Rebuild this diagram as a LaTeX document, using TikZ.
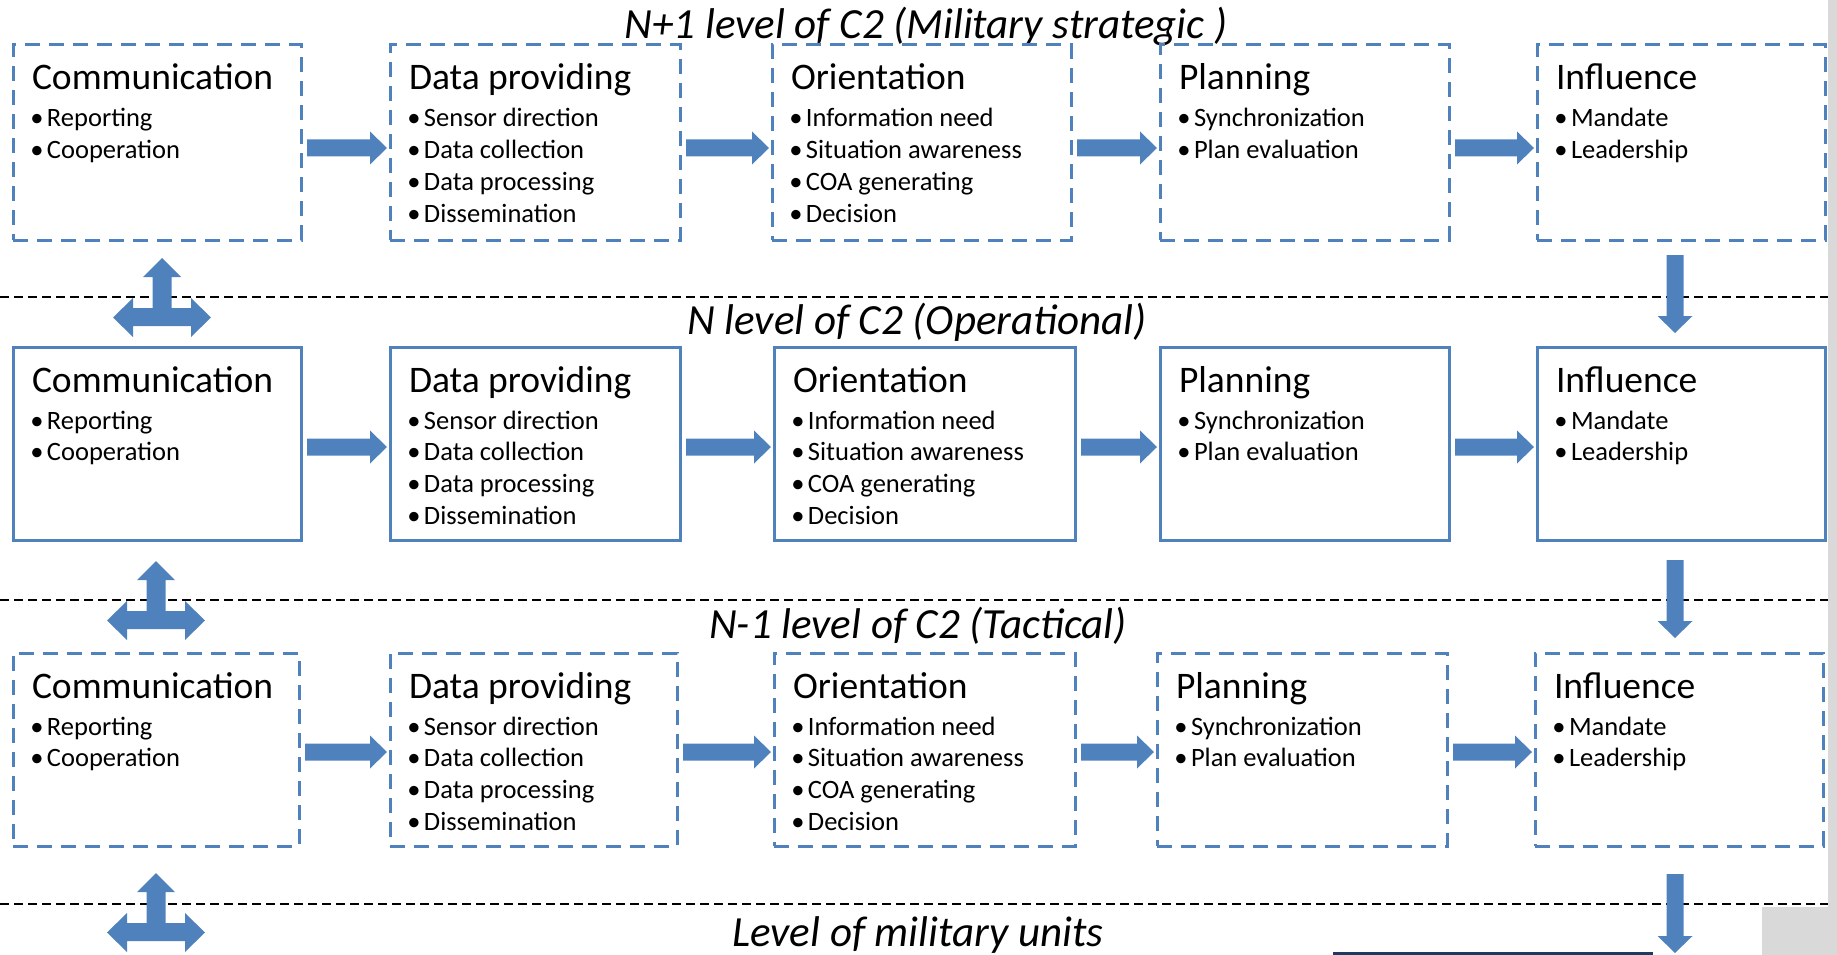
\documentclass[tikz,border=0pt]{standalone}
\usepackage{fontspec}
\setmainfont{Carlito}
\usetikzlibrary{calc}

\definecolor{boxblue}{HTML}{4F81BD}
\definecolor{pagegray}{HTML}{D9D9D9}
\definecolor{barnavy}{HTML}{1F3A60}

\newcommand{\ttlfont}{\fontsize{37.5}{40}\selectfont}
\newcommand{\itmfont}{\fontsize{26.5}{30}\selectfont}
\newcommand{\lvlfont}{\fontsize{43}{46}\selectfont\itshape}

% Box body: width, height, heading, comma separated bullet items
\newcommand{\boxcontent}[4]{%
  \parbox[t][#2][t]{#1}{\offinterlineskip
    \hbox to\hsize{\hspace*{19pt}\rule{0pt}{45pt}\smash{\ttlfont #3}\hfil}%
    \vskip5.3pt
    \foreach \entry in {#4}{%
      \hbox to\hsize{\hspace*{24pt}\rule{0pt}{31.7pt}\makebox[0pt]{\smash{\itmfont\textbullet}}\hspace*{10pt}\smash{\itmfont\entry}\hfil}}%
  }}

\tikzset{
  box/.style={draw=boxblue, line width=3pt, inner sep=0pt, outer sep=0pt, anchor=north west},
  dbox/.style={box, dash pattern=on 15pt off 9pt},
  sepline/.style={draw=black, line width=2pt, dash pattern=on 8.5pt off 5.5pt},
  lvl/.style={anchor=base, inner sep=0pt, font=\lvlfont},
  harrow/.style={to path={
    ($(\tikztostart)+(0,-8.5)$) -- ($(\tikztotarget)+(-17,-8.5)$) --
    ($(\tikztotarget)+(-17,-16.5)$) -- (\tikztotarget) --
    ($(\tikztotarget)+(-17,16.5)$) -- ($(\tikztotarget)+(-17,8.5)$) --
    ($(\tikztostart)+(0,8.5)$) -- cycle}},
  varrow/.style={to path={
    ($(\tikztostart)+(-8.5,0)$) -- ($(\tikztotarget)+(-8.5,-17)$) --
    ($(\tikztotarget)+(-17.5,-17)$) -- (\tikztotarget) --
    ($(\tikztotarget)+(17.5,-17)$) -- ($(\tikztotarget)+(8.5,-17)$) --
    ($(\tikztostart)+(8.5,0)$) -- cycle}},
  commarrow/.pic={
    \fill[boxblue] (0,0) -- (19,19) -- (9.5,19) -- (9.5,50) -- (29,50) -- (29,40)
      -- (49,59.5) -- (29,79) -- (29,68) -- (-29,68) -- (-29,79) -- (-49,59.5)
      -- (-29,40) -- (-29,50) -- (-9.5,50) -- (-9.5,19) -- (-19,19) -- cycle;}
}

\begin{document}
\begin{tikzpicture}[x=1pt,y=-1pt]
\useasboundingbox (0,0) rectangle (1837,955);

% page edge
\fill[pagegray] (1828,0) rectangle (1837,955);
\fill[pagegray] (1762,907) rectangle (1837,955);
\fill[barnavy] (1333,952) rectangle (1653,955);

% level separators
\draw[sepline] (0,297) -- (1828,297);
\draw[sepline] (0,600) -- (1828,600);
\draw[sepline] (0,904) -- (1828,904);

% level headings
\node[lvl] (l1) at (926,39) {N+1 level of C2 (Military strategic )};
\node[lvl] (l2) at (917,334) {N level of C2 (Operational)};
\node[lvl] (l3) at (918,638.5) {N-1 level of C2 (Tactical)};
\node[lvl] (l4) at (918,946.5) {Level of military units};

% strategic row
\node[dbox] (s1) at (13,45) {\boxcontent{288pt}{195pt}{Communication}{Reporting,Cooperation}};
\node[dbox] (s2) at (390,45) {\boxcontent{290pt}{195pt}{Data providing}{Sensor direction,Data collection,Data processing,Dissemination}};
\node[dbox] (s3) at (772,45) {\boxcontent{299pt}{195pt}{Orientation}{Information need,Situation awareness,COA generating,Decision}};
\node[dbox] (s4) at (1160,45) {\boxcontent{289pt}{195pt}{Planning}{Synchronization,Plan evaluation}};
\node[dbox] (s5) at (1537,45) {\boxcontent{288pt}{195pt}{Influence}{Mandate,Leadership}};

% operational row
\node[box] (o1) at (13,347) {\boxcontent{288pt}{193pt}{Communication}{Reporting,Cooperation}};
\node[box] (o2) at (390,347) {\boxcontent{290pt}{193pt}{Data providing}{Sensor direction,Data collection,Data processing,Dissemination}};
\node[box] (o3) at (774,347) {\boxcontent{301pt}{193pt}{Orientation}{Information need,Situation awareness,COA generating,Decision}};
\node[box] (o4) at (1160,347) {\boxcontent{289pt}{193pt}{Planning}{Synchronization,Plan evaluation}};
\node[box] (o5) at (1537,347) {\boxcontent{288pt}{193pt}{Influence}{Mandate,Leadership}};

% tactical row
\node[dbox] (t1) at (13,653) {\boxcontent{286pt}{193pt}{Communication}{Reporting,Cooperation}};
\node[dbox] (t2) at (390,653) {\boxcontent{287pt}{193pt}{Data providing}{Sensor direction,Data collection,Data processing,Dissemination}};
\node[dbox] (t3) at (774,653) {\boxcontent{301pt}{193pt}{Orientation}{Information need,Situation awareness,COA generating,Decision}};
\node[dbox] (t4) at (1157,653) {\boxcontent{290pt}{193pt}{Planning}{Synchronization,Plan evaluation}};
\node[dbox] (t5) at (1535,653) {\boxcontent{288pt}{193pt}{Influence}{Mandate,Leadership}};

% flow arrows within each level
\foreach \a/\b in {s1/s2,s2/s3,s3/s4,s4/s5}
  \fill[boxblue] ([shift={(6,5.5)}]\a.east) to[harrow] ([shift={(-3,5.5)}]\b.west);
\foreach \a/\b in {o1/o2,o2/o3,o3/o4,o4/o5}
  \fill[boxblue] ([shift={(6,3.5)}]\a.east) to[harrow] ([shift={(-3,3.5)}]\b.west);
\foreach \a/\b in {t1/t2,t2/t3,t3/t4,t4/t5}
  \fill[boxblue] ([shift={(6,2.5)}]\a.east) to[harrow] ([shift={(-3,2.5)}]\b.west);

% influence passed down the levels
\coordinate (units) at (1675,953);
\fill[boxblue] ($(s5.south -| units)+(0,15)$) to[varrow] ($(o5.north -| units)+(0,-14)$);
\fill[boxblue] ($(o5.south -| units)+(0,20)$) to[varrow] ($(t5.north -| units)+(0,-15)$);
\fill[boxblue] ($(t5.south -| units)+(0,28)$) to[varrow] (units);

% communication between levels
\pic at (162,258) {commarrow};
\pic at (156,561) {commarrow};
\pic at (156,873) {commarrow};
\end{tikzpicture}
\end{document}
